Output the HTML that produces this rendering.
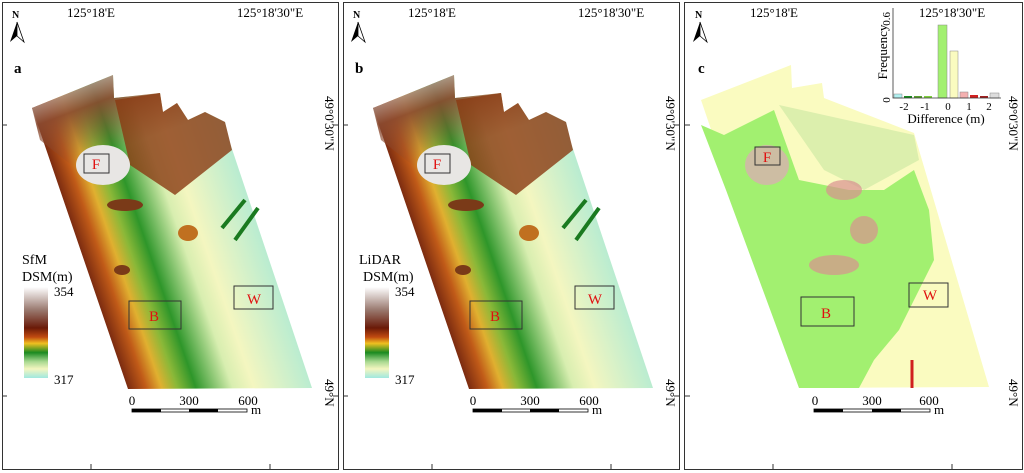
<!DOCTYPE html>
<html><head><meta charset="utf-8"><style>
html,body{margin:0;padding:0;background:#fff;}
svg{display:block;font-family:"Liberation Serif",serif;}
</style></head><body>
<svg width="1024" height="473" viewBox="0 0 1024 473" xmlns="http://www.w3.org/2000/svg">
<defs>
<linearGradient id="dsm" gradientUnits="userSpaceOnUse" x1="80" y1="250" x2="316" y2="169">
<stop offset="0" stop-color="#7a2a10"/>
<stop offset="0.07" stop-color="#c05a18"/>
<stop offset="0.13" stop-color="#e0b030"/>
<stop offset="0.19" stop-color="#8ab838"/>
<stop offset="0.26" stop-color="#2e962a"/>
<stop offset="0.4" stop-color="#d8eeb0"/>
<stop offset="0.48" stop-color="#f4f6c0"/>
<stop offset="0.8" stop-color="#a0e8d8"/>
</linearGradient>
<linearGradient id="top" gradientUnits="userSpaceOnUse" x1="60" y1="80" x2="90" y2="160">
<stop offset="0" stop-color="#c8c0bc"/>
<stop offset="0.4" stop-color="#8a4a30"/>
<stop offset="1" stop-color="#8a4a30" stop-opacity="0"/>
</linearGradient>
<linearGradient id="cb" x1="0" y1="0" x2="0" y2="1">
<stop offset="0" stop-color="#ffffff"/>
<stop offset="0.25" stop-color="#9a7a70"/>
<stop offset="0.45" stop-color="#6a1a08"/>
<stop offset="0.55" stop-color="#c04a10"/>
<stop offset="0.62" stop-color="#f0c020"/>
<stop offset="0.72" stop-color="#1a8a20"/>
<stop offset="0.82" stop-color="#a8d890"/>
<stop offset="0.9" stop-color="#f4f6c0"/>
<stop offset="1" stop-color="#a0e8e0"/>
</linearGradient>
<g id="panel">
<rect x="2.5" y="2.5" width="336" height="467" fill="#fff" stroke="#333" stroke-width="1"/>
<polygon points="32,108 113,75 114,98 160,93 163,112 177,103 188,120 205,112 225,122 230,143 312,388 128,389" fill="url(#dsm)"/>
<polygon points="32,108 113,75 114,98 160,93 163,112 177,103 188,120 205,112 225,122 230,150 170,190 90,180 40,140" fill="url(#top)" opacity="0.9"/>
<polygon points="115,100 160,93 163,112 177,103 188,120 205,112 225,122 232,150 175,195 130,165" fill="#8a3a12" opacity="0.8"/>
<ellipse cx="103" cy="165" rx="27" ry="20" fill="#e8e6e4"/>
<ellipse cx="125" cy="205" rx="18" ry="6" fill="#7a3a18"/>
<ellipse cx="188" cy="233" rx="10" ry="8" fill="#c07020"/>
<ellipse cx="122" cy="270" rx="8" ry="5" fill="#7a3a18"/>
<g stroke="#1a7a20" stroke-width="4"><line x1="222" y1="228" x2="245" y2="200"/><line x1="235" y1="240" x2="258" y2="208"/></g>
<rect x="84" y="154" width="25" height="19" fill="none" stroke="#333"/>
<text x="96" y="169" font-size="15" fill="#e01010" text-anchor="middle">F</text>
<rect x="129" y="301" width="52" height="28" fill="none" stroke="#333"/>
<text x="154" y="321" font-size="15" fill="#e01010" text-anchor="middle">B</text>
<rect x="234" y="286" width="39" height="23" fill="none" stroke="#333"/>
<text x="254" y="304" font-size="15" fill="#e01010" text-anchor="middle">W</text>
<rect x="24" y="287" width="24" height="91" fill="url(#cb)"/>
<text x="54" y="296" font-size="13" fill="#000">354</text>
<text x="54" y="384" font-size="13" fill="#000">317</text>
<text x="132" y="405" font-size="13" text-anchor="middle">0</text>
<text x="189" y="405" font-size="13" text-anchor="middle">300</text>
<text x="248" y="405" font-size="13" text-anchor="middle">600</text>
<rect x="132" y="409" width="115" height="3" fill="#fff" stroke="#000" stroke-width="0.8"/>
<rect x="132" y="409" width="29" height="3" fill="#000"/>
<rect x="189" y="409" width="29" height="3" fill="#000"/>
<text x="251" y="414" font-size="13">m</text>
<text x="91" y="17" font-size="13" text-anchor="middle">125°18'E</text>
<text x="270" y="17" font-size="13" text-anchor="middle">125°18'30"E</text>
<text transform="translate(325,96) rotate(90)" font-size="13">49°0'30"N</text>
<text transform="translate(325,379) rotate(90)" font-size="13">49°N</text>
<g stroke="#333"><line x1="2" y1="125" x2="7" y2="125"/><line x1="2" y1="396" x2="7" y2="396"/><line x1="91" y1="464" x2="91" y2="470"/><line x1="270" y1="464" x2="270" y2="470"/><line x1="333" y1="125" x2="338" y2="125"/><line x1="333" y1="396" x2="338" y2="396"/></g>
<text x="12" y="18" font-size="10" font-weight="bold">N</text>
<polygon points="17,22 10,42 17,36" fill="#000"/><polygon points="17,22 24,42 17,36" fill="#fff" stroke="#000" stroke-width="0.8"/>
</g>
</defs>
<use href="#panel"/>
<text x="14" y="73" font-size="15" font-weight="bold">a</text>
<text x="22" y="264" font-size="14">SfM</text>
<text x="22" y="281" font-size="14">DSM(m)</text>
<use href="#panel" x="341"/>
<text x="355" y="73" font-size="15" font-weight="bold">b</text>
<text x="359" y="264" font-size="14">LiDAR</text>
<text x="363" y="281" font-size="14">DSM(m)</text>
<g transform="translate(684,0)">
<rect x="0.5" y="2.5" width="338" height="467" fill="#fff" stroke="#333"/>
<polygon points="17,100 107,65 108,88 138,83 140,98 230,133 305,387 115,388" fill="#fafbc0"/>
<polygon points="17,125 40,135 90,110 115,180 165,190 200,190 230,170 245,210 250,260 230,300 215,330 190,360 175,388 115,388 42,190" fill="#a2f070"/>
<polygon points="95,105 230,135 235,160 180,190 140,170" fill="#c8e8a0" opacity="0.6"/>
<ellipse cx="83" cy="165" rx="22" ry="20" fill="#d8b0b0" opacity="0.8"/>
<ellipse cx="160" cy="190" rx="18" ry="10" fill="#d89090" opacity="0.7"/>
<ellipse cx="180" cy="230" rx="14" ry="14" fill="#d89090" opacity="0.7"/>
<ellipse cx="150" cy="265" rx="25" ry="10" fill="#d89090" opacity="0.7"/>
<line x1="228" y1="360" x2="228" y2="388" stroke="#d02020" stroke-width="3"/>
<rect x="71" y="147" width="25" height="18" fill="none" stroke="#333"/>
<text x="83" y="162" font-size="15" fill="#e01010" text-anchor="middle">F</text>
<rect x="117" y="297" width="53" height="29" fill="none" stroke="#333"/>
<text x="142" y="318" font-size="15" fill="#e01010" text-anchor="middle">B</text>
<rect x="225" y="283" width="39" height="24" fill="none" stroke="#333"/>
<text x="246" y="300" font-size="15" fill="#e01010" text-anchor="middle">W</text>
<text x="131" y="405" font-size="13" text-anchor="middle">0</text>
<text x="188" y="405" font-size="13" text-anchor="middle">300</text>
<text x="245" y="405" font-size="13" text-anchor="middle">600</text>
<rect x="130" y="409" width="116" height="3" fill="#fff" stroke="#000" stroke-width="0.8"/>
<rect x="130" y="409" width="29" height="3" fill="#000"/>
<rect x="188" y="409" width="29" height="3" fill="#000"/>
<text x="250" y="414" font-size="13">m</text>
<text x="90" y="17" font-size="13" text-anchor="middle">125°18'E</text>
<text x="268" y="17" font-size="13" text-anchor="middle">125°18'30"E</text>
<text transform="translate(325,96) rotate(90)" font-size="13">49°0'30"N</text>
<text transform="translate(325,379) rotate(90)" font-size="13">49°N</text>
<g stroke="#333"><line x1="0" y1="125" x2="6" y2="125"/><line x1="0" y1="396" x2="6" y2="396"/><line x1="89" y1="464" x2="89" y2="470"/><line x1="268" y1="464" x2="268" y2="470"/></g>
<text x="11" y="18" font-size="10" font-weight="bold">N</text>
<polygon points="16,22 9,42 16,36" fill="#000"/><polygon points="16,22 23,42 16,36" fill="#fff" stroke="#000" stroke-width="0.8"/>
<text x="14" y="73" font-size="15" font-weight="bold">c</text>
<g>
<rect x="210" y="94" width="8" height="4" fill="#b0f0f0" stroke="#888" stroke-width="0.5"/>
<rect x="220" y="96" width="8" height="2" fill="#1a8a20"/>
<rect x="230" y="96" width="8" height="2" fill="#5aa030"/>
<rect x="240" y="96" width="8" height="2" fill="#80d040"/>
<rect x="254" y="25" width="9" height="73" fill="#a2f070" stroke="#888" stroke-width="0.5"/>
<rect x="266" y="51" width="8" height="47" fill="#fafbc0" stroke="#888" stroke-width="0.5"/>
<rect x="276" y="92" width="8" height="6" fill="#f4b0b0" stroke="#888" stroke-width="0.5"/>
<rect x="286" y="95" width="8" height="3" fill="#d02020"/>
<rect x="296" y="96" width="8" height="2" fill="#a02020"/>
<rect x="306" y="93" width="9" height="5" fill="#ddd" stroke="#888" stroke-width="0.5"/>
<polyline points="209,8 209,98 317,98" fill="none" stroke="#333" stroke-width="0.8"/>
<text transform="translate(206,12) rotate(-90)" font-size="11" text-anchor="end">0.6</text>
<text transform="translate(206,100) rotate(-90)" font-size="11" text-anchor="middle">0</text>
<text transform="translate(203,52) rotate(-90)" font-size="13" text-anchor="middle">Frequency</text>
<text x="220" y="110" font-size="11" text-anchor="middle">-2</text>
<text x="241" y="110" font-size="11" text-anchor="middle">-1</text>
<text x="264" y="110" font-size="11" text-anchor="middle">0</text>
<text x="285" y="110" font-size="11" text-anchor="middle">1</text>
<text x="305" y="110" font-size="11" text-anchor="middle">2</text>
<text x="262" y="123" font-size="13" text-anchor="middle">Difference (m)</text>
</g>
</g>
</svg>
</body></html>
